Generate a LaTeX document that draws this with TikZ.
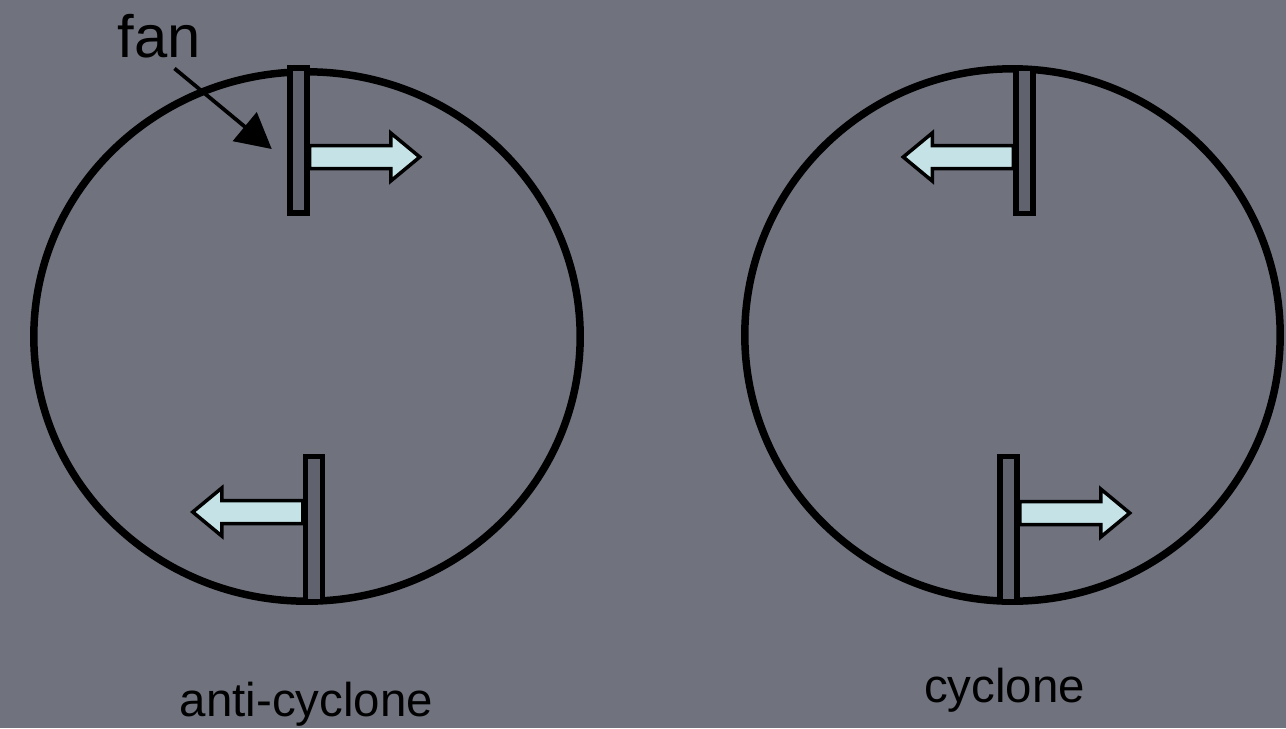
\documentclass[tikz,border=0pt]{standalone}
\usepackage{fontspec}
\setmainfont{Liberation Sans}
\usetikzlibrary{arrows.meta, shapes.geometric}
\definecolor{board}{RGB}{112,115,126}
\definecolor{vane}{RGB}{96,99,109}
\definecolor{flowfill}{RGB}{197,227,230}
\tikzset{
  tank/.style={ellipse, draw, line width=0.15cm, inner sep=0pt},
  fanbar/.style={rectangle, draw, fill=vane, line width=0.11cm, inner sep=0pt,
                 minimum width=0.34cm, minimum height=2.9cm},
  flowarr/.style={draw, fill=flowfill, line width=0.07cm},
  lbl/.style={font=\fontsize{27}{30}\selectfont, anchor=base},
  pointer/.style={-{Triangle[length=20pt,width=21pt]}, line width=0.075cm},
  flow/.pic={\path[flowarr] (0,-11.5) -- (81,-11.5) -- (81,-24) -- (110,0)
             -- (81,24) -- (81,11.5) -- (0,11.5) -- cycle;},
}

\begin{document}
\begin{tikzpicture}[x=0.02cm, y=-0.02cm]

  % board
  \fill[board] (0,0) rectangle (1286,728);
  \useasboundingbox (0,0) rectangle (1286,728);

  % the two tanks
  \node[tank, minimum width=10.93cm, minimum height=10.59cm] (tankL) at (307,336.5) {};
  \node[tank, minimum width=10.71cm, minimum height=10.65cm] (tankR) at (1012.5,335) {};

  % fans
  \node[fanbar] (fanLT) at (298.5,140.5) {};
  \node[fanbar] (fanLB) at (314,529) {};
  \node[fanbar] (fanRT) at (1024.5,141) {};
  \node[fanbar] (fanRB) at (1008.5,529) {};

  % flows pushed by the fans
  \pic at ([yshift=-0.33cm]fanLT.east) {flow};
  \pic[xscale=-1] at ([yshift=0.34cm]fanLB.west) {flow};
  \pic[xscale=-1] at ([yshift=-0.32cm]fanRT.west) {flow};
  \pic at ([yshift=0.32cm]fanRB.east) {flow};

  % labels
  \node[lbl, font=\fontsize{34}{36}\selectfont, inner sep=2pt] (fanlbl) at (159.5,57) {fan};
  \coordinate (fanpt) at ([xshift=-0.31cm, yshift=-0.17cm]fanLT.west);
  \draw[pointer] ([xshift=0.3cm, yshift=-0.14cm]fanlbl.south) -- (fanpt);

  \node[lbl] (antilbl) at (306.5,716) {anti-cyclone};
  \node[lbl] (cyclbl) at (1004.5,702) {cyclone};

\end{tikzpicture}
\end{document}
